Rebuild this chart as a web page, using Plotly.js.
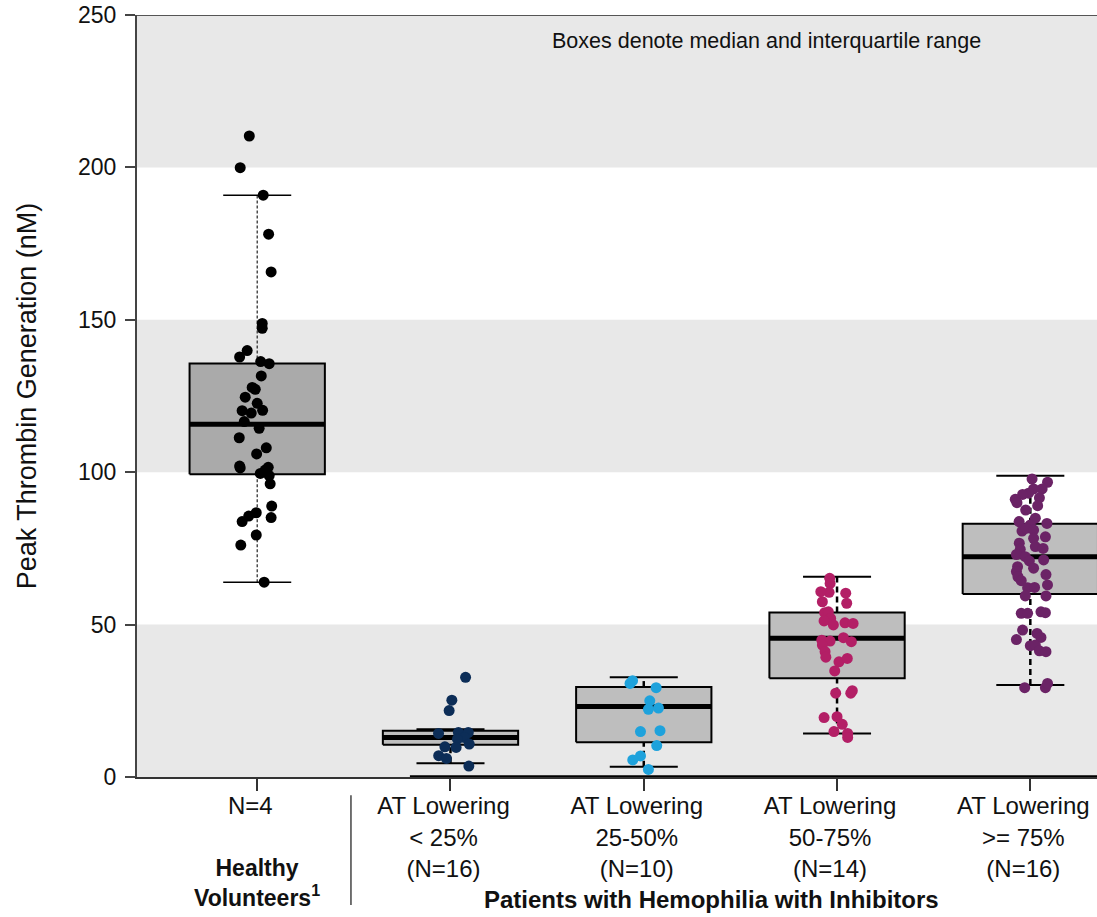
<!DOCTYPE html>
<html>
<head>
<meta charset="utf-8">
<script src="https://cdn.plot.ly/plotly-3.0.1.min.js"></script>
<style>html,body{margin:0;padding:0;background:#fff;}#chart{width:1097px;height:917px;}</style>
</head>
<body>
<div id="chart"></div>
<script>
// ---- Data ----
var categoryLabels = [
  "N=4",
  "AT Lowering<br>&lt; 25%<br>(N=16)",
  "AT Lowering<br>25-50%<br>(N=10)",
  "AT Lowering<br>50-75%<br>(N=14)",
  "AT Lowering<br>&gt;= 75%<br>(N=16)"
];
var groupColors = ["#000000", "#0c2d57", "#1ea2dc", "#b31f66", "#6b2366"];

// box statistics: lower whisker, Q1, median, Q3, upper whisker
var whiskerLow  = [63.9, 4.5, 3.4, 14.3, 30.2];
var quartile1   = [99.3, 10.6, 11.4, 32.4, 60.0];
var medians     = [115.7, 13.0, 23.1, 45.5, 72.3];
var quartile3   = [135.7, 15.2, 29.5, 54.0, 83.1];
var whiskerHigh = [190.9, 15.7, 32.7, 65.7, 98.8];

// individual values (nM) and their horizontal jitter (category units)
var healthyValues = [210.3,199.9,190.9,178.1,165.7,148.8,147.2,139.9,137.8,136.3,135.6,131.6,127.8,127.2,124.6,122.6,120.2,119.4,120.3,116.6,114.4,111.3,108.0,106.0,102.0,101.4,101.6,100.7,99.6,98.9,96.2,88.9,85.1,86.7,85.6,83.8,79.4,76.1,63.9];
var healthyJitter = [-0.041,-0.088,0.031,0.059,0.072,0.026,0.026,-0.052,-0.091,0.018,0.062,0.021,-0.026,-0.010,-0.062,0,-0.078,-0.031,0.028,-0.067,0.010,-0.093,0.047,-0.003,-0.091,-0.088,0.057,0.041,0.016,0.062,0.067,0.075,0.072,-0.005,-0.044,-0.078,-0.005,-0.085,0.036];

var lt25Values = [32.7,25.2,21.8,14.3,14.6,14.6,13.0,12.4,10.8,9.9,9.7,7.0,6.1,3.6];
var lt25Jitter = [0.078,0.007,-0.007,-0.062,0.041,0.092,0.071,0.036,0.097,-0.029,0.029,-0.061,-0.021,0.095];

var r25to50Values = [30.7,31.6,29.3,25.0,22.2,22.6,14.9,15.2,10.3,6.9,5.6,2.5];
var r25to50Jitter = [-0.071,-0.058,0.064,0.031,0.024,0.076,-0.017,0.084,0.067,-0.017,-0.057,0.024];

var r50to75Values = [65.2,63.5,60.6,60.8,60.3,57.0,57.5,53.9,54.2,52.0,51.2,49.9,50.6,50.4,44.9,44.6,45.7,44.4,43.3,41.1,39.3,37.8,38.9,34.8,27.5,27.5,28.3,19.5,19.8,17.3,14.9,14.3,13.0];
var r50to75Jitter = [-0.038,-0.036,-0.041,-0.084,0.045,0.050,-0.076,-0.064,-0.045,-0.033,-0.067,-0.019,0.041,0.083,-0.079,-0.036,0.033,0.074,-0.076,-0.062,-0.058,0.010,0.053,-0.012,-0.007,0.071,0.079,-0.067,0,0.027,-0.016,0.055,0.055];

var ge75Values = [97.8,96.7,94.5,94.5,93.1,92.7,91.1,90.0,91.6,89.0,87.6,84.9,83.8,83.2,82.7,80.7,81.6,81.0,78.8,78.3,76.7,75.6,75.0,74.7,73.0,72.3,70.9,71.2,69.0,68.5,67.4,66.4,65.7,64.4,63.0,62.1,62.2,59.4,59.4,53.7,53.7,54.2,53.9,48.2,45.1,47.1,45.8,43.1,43.3,41.4,41.1,29.3,29.3,30.7];
var ge75Jitter = [0.009,0.089,0.061,0.017,-0.009,-0.040,-0.078,-0.069,0.047,0.038,-0.024,0.026,-0.058,0.086,0,-0.043,-0.021,0.017,0.078,0.017,-0.057,0.026,0.066,-0.052,-0.072,-0.026,-0.005,0.069,-0.066,0.017,-0.072,0.081,-0.064,-0.047,0.089,-0.014,0.022,-0.026,0.081,-0.047,-0.014,0.055,0.078,-0.040,-0.072,0.035,0.055,0,0.026,0.047,0.081,-0.029,0.078,0.089];

var groupValues = [healthyValues, lt25Values, r25to50Values, r50to75Values, ge75Values];
var groupJitter = [healthyJitter, lt25Jitter, r25to50Jitter, r50to75Jitter, ge75Jitter];

var yTicks = [0, 50, 100, 150, 200, 250];

// ---- Build traces ----
var BOX_HALF = 0.35, CAP_HALF = 0.176;
var traces = [];
for (var i = 0; i < 5; i++) {
  var first = (i === 0);
  traces.push({
    type: "scatter", mode: "lines", hoverinfo: "skip", showlegend: false,
    x: [i, i, null, i, i],
    y: [whiskerLow[i], quartile1[i], null, quartile3[i], whiskerHigh[i]],
    line: first ? {color: "#333", width: 1.3, dash: "3px,2px"} : {color: "#000", width: 2.5, dash: "6px,4px"}
  });
  traces.push({
    type: "scatter", mode: "lines", hoverinfo: "skip", showlegend: false,
    x: [i - CAP_HALF, i + CAP_HALF, null, i - CAP_HALF, i + CAP_HALF],
    y: [whiskerLow[i], whiskerLow[i], null, whiskerHigh[i], whiskerHigh[i]],
    line: {color: "#000", width: first ? 1.5 : 2}
  });
  traces.push({
    type: "scatter", mode: "lines", hoverinfo: "skip", showlegend: false,
    x: [i - BOX_HALF, i + BOX_HALF, i + BOX_HALF, i - BOX_HALF, i - BOX_HALF],
    y: [quartile1[i], quartile1[i], quartile3[i], quartile3[i], quartile1[i]],
    fill: "toself", fillcolor: first ? "#aaaaaa" : "#bebebe",
    line: {color: "#000", width: 2}
  });
  traces.push({
    type: "scatter", mode: "lines", hoverinfo: "skip", showlegend: false,
    x: [i - BOX_HALF, i + BOX_HALF], y: [medians[i], medians[i]],
    line: {color: "#000", width: 5}
  });
}
for (var g = 0; g < 5; g++) {
  traces.push({
    type: "scatter", mode: "markers", showlegend: false,
    x: groupJitter[g].map(function (j) { return g + j; }),
    y: groupValues[g],
    marker: {color: groupColors[g], size: 11, line: {width: 0}}
  });
}

var FONT = "Arial, 'Liberation Sans', sans-serif";
var layout = {
  width: 1097, height: 917,
  margin: {l: 137, r: 0, t: 15, b: 140},
  paper_bgcolor: "#fff", plot_bgcolor: "#fff",
  font: {family: FONT, color: "#111"},
  showlegend: false,
  xaxis: {
    range: [-0.622, 4.345], showgrid: false, zeroline: false,
    showline: true, linecolor: "#333", linewidth: 1.5,
    tickmode: "array", tickvals: [0, 1, 2, 3, 4], ticktext: categoryLabels,
    ticks: "outside", ticklen: 12, tickwidth: 2, tickcolor: "#333",
    ticklabelstandoff: -5, ticklabelshift: -7,
    tickfont: {size: 24, family: FONT, color: "#111"}
  },
  yaxis: {
    range: [0, 250], showgrid: false, zeroline: false,
    showline: true, linecolor: "#444", linewidth: 2,
    tickmode: "array", tickvals: yTicks,
    ticks: "outside", ticklen: 10, tickwidth: 2, tickcolor: "#444",
    ticklabelstandoff: 4,
    tickfont: {size: 23, family: FONT, color: "#111"},
    title: {text: "Peak Thrombin Generation (nM)", font: {size: 27, family: FONT, color: "#111"}, standoff: 34}
  },
  shapes: [
    {type: "rect", xref: "paper", yref: "y", x0: 0, x1: 1, y0: 0, y1: 50, fillcolor: "#e8e8e8", line: {width: 0}, layer: "below"},
    {type: "rect", xref: "paper", yref: "y", x0: 0, x1: 1, y0: 100, y1: 150, fillcolor: "#e8e8e8", line: {width: 0}, layer: "below"},
    {type: "rect", xref: "paper", yref: "y", x0: 0, x1: 1, y0: 200, y1: 250, fillcolor: "#e8e8e8", line: {width: 0}, layer: "below"},
    {type: "line", xref: "paper", yref: "y", x0: 0, x1: 1, y0: 250, y1: 250, line: {color: "#555", width: 2}},
    {type: "line", xref: "x", yref: "y", x0: 0.79, x1: 4.345, y0: 0, y1: 0, line: {color: "#000", width: 3.5}},
    {type: "line", xref: "x", yref: "paper", x0: 0.485, x1: 0.485, y0: -0.024, y1: -0.168, line: {color: "#444", width: 1.5}}
  ],
  annotations: [
    {xref: "x", yref: "y", x: 2.635, y: 241.5, text: "Boxes denote median and interquartile range", showarrow: false,
     font: {size: 21.5, family: FONT, color: "#111"}, xanchor: "center", yanchor: "middle"},
    {xref: "x", yref: "paper", x: 0, y: -0.139, text: "<b>Healthy</b><br><b>Volunteers<sup>1</sup></b>", showarrow: false,
     font: {size: 23, family: FONT, color: "#111"}, xanchor: "center", yanchor: "middle"},
    {xref: "x", yref: "paper", x: 2.348, y: -0.1614, text: "<b>Patients with Hemophilia with Inhibitors</b>", showarrow: false,
     font: {size: 24, family: FONT, color: "#111"}, xanchor: "center", yanchor: "middle"}
  ]
};

Plotly.newPlot("chart", traces, layout, {displayModeBar: false, staticPlot: true});
</script>
</body>
</html>
